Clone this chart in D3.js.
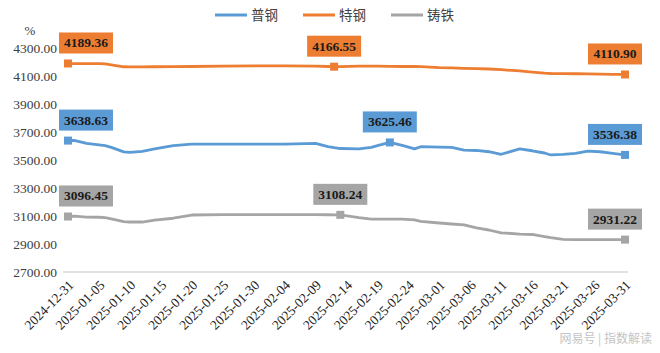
<!DOCTYPE html>
<html>
<head>
<meta charset="utf-8">
<script src="https://cdn.jsdelivr.net/npm/d3@7"></script>
<style>
  body { margin: 0; background: #fff; }
  svg { display: block; }
</style>
</head>
<body>
<svg id="chart" width="660" height="353"></svg>
<script>
// Data
const dates = ["2024-12-31","2025-01-01","2025-01-03","2025-01-05","2025-01-06","2025-01-07","2025-01-09","2025-01-10",
  "2025-01-12","2025-01-14","2025-01-17","2025-01-20","2025-01-25","2025-01-30","2025-02-04","2025-02-09",
  "2025-02-11","2025-02-12","2025-02-13","2025-02-16","2025-02-18","2025-02-19","2025-02-21","2025-02-23",
  "2025-02-25","2025-02-26","2025-03-01","2025-03-03","2025-03-05","2025-03-07","2025-03-09","2025-03-11",
  "2025-03-14","2025-03-16","2025-03-18","2025-03-19","2025-03-21","2025-03-23","2025-03-25","2025-03-27",
  "2025-03-29","2025-03-31"];

const puGang = [3638.63,3640,3619,3608,3602,3590,3558,3554,3562,3580,3603,3614,3614,3614,3614,3619,
  3595,3588,3582,3579,3590,3602,3625.46,3605,3579,3595,3592,3590,3571,3568,3559,3541,
  3579,3566,3550,3536,3540,3548,3564,3559,3548,3536.38];

const teGang = [4189.36,4189,4189,4188,4186,4180,4166,4165,4165,4166,4167,4168,4170,4173,4173,4170,
  4168,4166.55,4167,4170,4170,4170,4169,4168,4168,4167,4160,4158,4155,4152,4150,4145,
  4136,4128,4120,4118,4117,4116,4115,4113,4112,4110.90];

const zhuTie = [3096.45,3099,3092,3091,3088,3080,3060,3057,3057,3070,3084,3107,3110,3110,3110,3110,
  3109,3108,3108.24,3088,3077,3077,3077,3077,3072,3062,3050,3043,3036,3015,3000,2980,
  2971,2968,2952,2945,2933,2931,2931,2931,2931,2931.22];

const tickLabels = ["2024-12-31","2025-01-05","2025-01-10","2025-01-15","2025-01-20","2025-01-25","2025-01-30",
  "2025-02-04","2025-02-09","2025-02-14","2025-02-19","2025-02-24","2025-03-01","2025-03-06","2025-03-11",
  "2025-03-16","2025-03-21","2025-03-26","2025-03-31"];

const yTicks = [2700, 2900, 3100, 3300, 3500, 3700, 3900, 4100, 4300];

const series = [
  { name: "普钢", values: puGang, color: "#5B9BD5", marks: [0, 22, 41] },
  { name: "特钢", values: teGang, color: "#ED7D31", marks: [0, 17, 41] },
  { name: "铸铁", values: zhuTie, color: "#A5A5A5", marks: [0, 18, 41] }
];

const parse = d3.timeParse("%Y-%m-%d");
const svg = d3.select("#chart");

const x = d3.scaleTime()
  .domain([parse("2024-12-31"), parse("2025-03-31")])
  .range([68, 625]);
const y = d3.scaleLinear()
  .domain([2700, 4300])
  .range([272, 48]);

const serif = "'Liberation Serif', 'Times New Roman', serif";
const cjk = "'Noto Sans CJK SC', 'Noto Sans', sans-serif";

// baseline grid
svg.append("line")
  .attr("x1", 63).attr("x2", 628)
  .attr("y1", y(2700)).attr("y2", y(2700))
  .attr("stroke", "#d9d9d9").attr("stroke-width", 1.5);

// y axis
const yAxis = svg.append("g")
  .attr("transform", "translate(57,0)")
  .call(d3.axisLeft(y).tickValues(yTicks).tickSize(0).tickFormat(d3.format(".2f")));
yAxis.select(".domain").remove();
yAxis.selectAll("text")
  .attr("font-family", serif).attr("font-size", 13.5).attr("fill", "#404040").attr("x", 0);

svg.append("text")
  .attr("x", 30).attr("y", 35)
  .attr("text-anchor", "middle")
  .attr("font-family", serif).attr("font-size", 13).attr("fill", "#404040")
  .text("%");

// x axis labels
const xAxis = svg.append("g")
  .attr("transform", "translate(0,272)")
  .call(d3.axisBottom(x).tickValues(tickLabels.map(parse)).tickSize(0).tickFormat(d3.timeFormat("%Y-%m-%d")));
xAxis.select(".domain").remove();
xAxis.selectAll("text")
  .attr("font-family", serif).attr("font-size", 13.5).attr("fill", "#222")
  .attr("text-anchor", "end")
  .attr("dy", 0).attr("y", 0)
  .attr("transform", "translate(6,14) rotate(-45)");

// lines
const line = d3.line()
  .x((d, i) => x(parse(dates[i])))
  .y(d => y(d));

series.forEach(s => {
  svg.append("path")
    .datum(s.values)
    .attr("fill", "none")
    .attr("stroke", s.color)
    .attr("stroke-width", 2.8)
    .attr("stroke-linejoin", "round")
    .attr("d", line);

  s.marks.forEach((i, k) => {
    const px = x(parse(dates[i])), py = y(s.values[i]);
    svg.append("rect")
      .attr("x", px - 4).attr("y", py - 4)
      .attr("width", 8).attr("height", 8)
      .attr("fill", s.color);

    const cx = k === 0 ? px + 18 : (k === 2 ? px - 10 : px);
    svg.append("rect")
      .attr("x", cx - 27).attr("y", py - 31)
      .attr("width", 54).attr("height", 21)
      .attr("fill", s.color);
    svg.append("text")
      .attr("x", cx).attr("y", py - 16)
      .attr("text-anchor", "middle")
      .attr("font-family", serif).attr("font-weight", "bold")
      .attr("font-size", 13.5).attr("fill", "#1a1a1a")
      .text(d3.format(".2f")(s.values[i]));
  });
});

// legend
const legendX = [215, 303, 391];
series.forEach((s, i) => {
  const g = svg.append("g").attr("transform", `translate(${legendX[i]},15)`);
  g.append("line").attr("x1", 0).attr("x2", 32).attr("y1", 0).attr("y2", 0)
    .attr("stroke", s.color).attr("stroke-width", 3);
  g.append("text").attr("x", 36).attr("y", 5)
    .attr("font-family", cjk).attr("font-size", 13.5).attr("fill", "#404040")
    .text(s.name);
});

// watermark
svg.append("text")
  .attr("x", 652).attr("y", 343)
  .attr("text-anchor", "end")
  .attr("font-family", cjk).attr("font-size", 12).attr("fill", "#c4c4c4")
  .text("网易号 | 指数解读");
</script>
</body>
</html>
